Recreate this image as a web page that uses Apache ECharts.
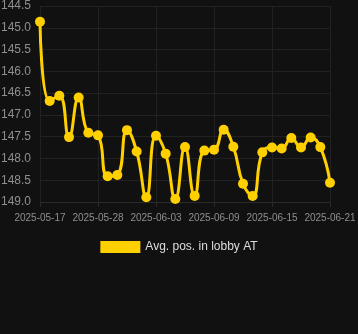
<!DOCTYPE html>
<html><head><meta charset="utf-8">
<script src="https://cdn.jsdelivr.net/npm/echarts@6/dist/echarts.min.js"></script>
<style>html,body{margin:0;padding:0;background:#111111;}#c{width:358px;height:334px;}</style>
</head><body><div id="c"></div>
<script>
const categories = ["2025-05-17","2025-05-23","2025-05-24","2025-05-25","2025-05-26","2025-05-27","2025-05-28","2025-05-29","2025-05-30","2025-05-31","2025-06-01","2025-06-02","2025-06-03","2025-06-04","2025-06-05","2025-06-06","2025-06-07","2025-06-08","2025-06-09","2025-06-10","2025-06-11","2025-06-12","2025-06-13","2025-06-14","2025-06-15","2025-06-16","2025-06-17","2025-06-18","2025-06-19","2025-06-20","2025-06-21"];
const avgPos = [144.86,146.68,146.56,147.51,146.6,147.41,147.47,148.41,148.38,147.35,147.84,148.89,147.48,147.89,148.93,147.74,148.86,147.82,147.8,147.34,147.73,148.58,148.86,147.86,147.75,147.77,147.53,147.75,147.52,147.74,148.56];
const seriesName = "Avg. pos. in lobby AT";
const chart = echarts.init(document.getElementById('c'));
chart.setOption({
  backgroundColor: '#111111',
  animation: false,
  grid: {left: 40, right: 28, top: 6, bottom: 132, containLabel: false, outerBoundsMode: 'none'},
  legend: {
    data: [seriesName], top: 236, left: 'center',
    itemWidth: 40, itemHeight: 12, icon: 'rect', itemGap: 10,
    textStyle: {color: '#dddddd', fontSize: 12, fontFamily: 'Liberation Sans, Arial, sans-serif'}
  },
  xAxis: {
    type: 'category', data: categories, boundaryGap: false,
    axisLine: {show: true, lineStyle: {color: '#2a2a2a'}},
    axisTick: {show: true, interval: 5, lineStyle: {color: '#2a2a2a'}},
    axisLabel: {interval: 5, color: '#8f8f8f', fontSize: 10, margin: 11, fontFamily: 'Liberation Sans, Arial, sans-serif'},
    splitLine: {show: true, interval: 5, lineStyle: {color: '#212121'}}
  },
  yAxis: {
    type: 'value', inverse: true, min: 144.5, max: 149.0, interval: 0.5,
    axisLine: {show: false}, axisTick: {show: false},
    axisLabel: {color: '#8f8f8f', fontSize: 12, fontFamily: 'Liberation Sans, Arial, sans-serif', formatter: v => v.toFixed(1), margin: 9},
    splitLine: {show: true, lineStyle: {color: '#212121'}}
  },
  series: [{
    name: seriesName, type: 'line', data: avgPos, smooth: true,
    symbol: 'circle', symbolSize: 10, showSymbol: true, showAllSymbol: true,
    lineStyle: {color: '#FFD000', width: 3},
    itemStyle: {color: '#FFD000'}
  }]
});
</script></body></html>
